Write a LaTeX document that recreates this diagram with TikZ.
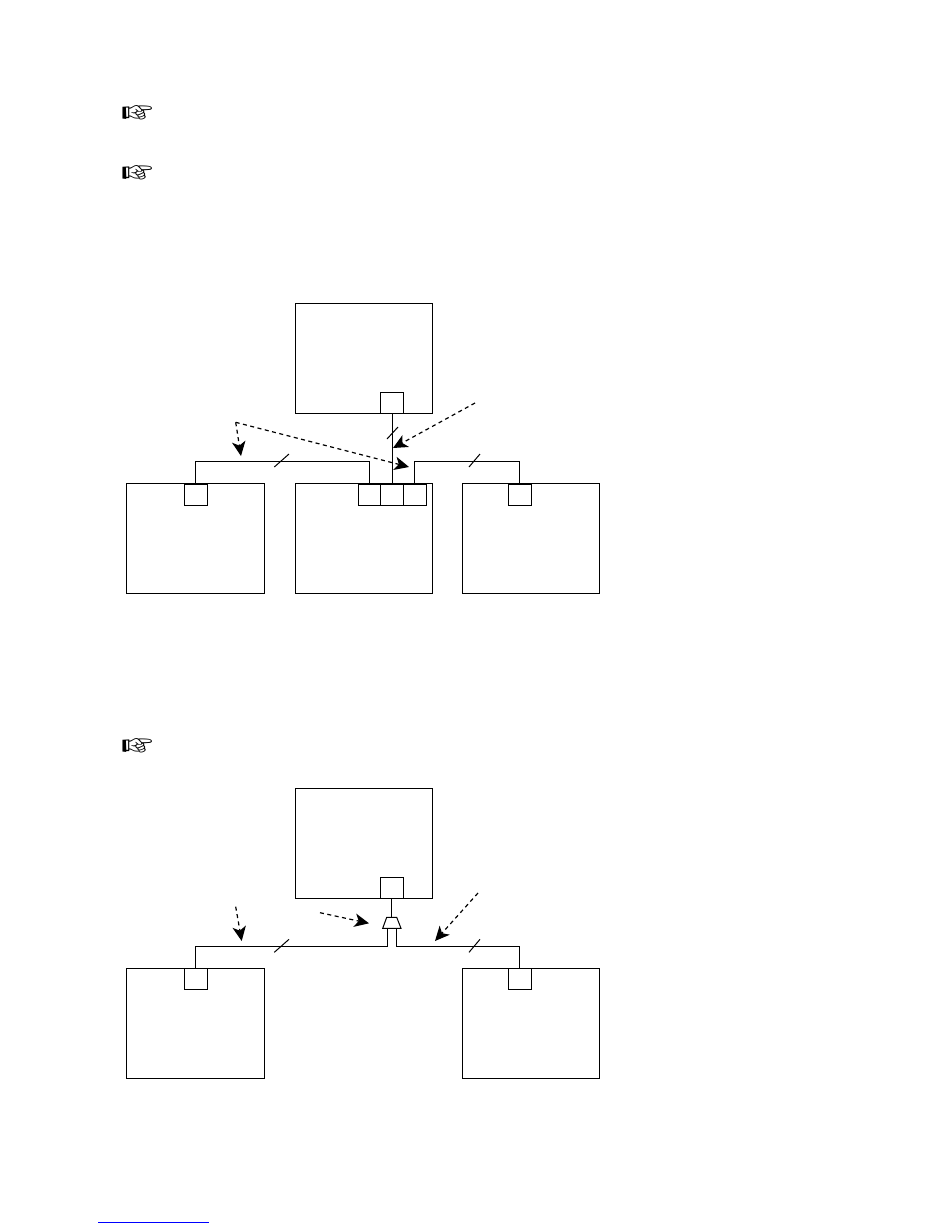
\documentclass[tikz,border=0pt]{standalone}
\usepackage{fontspec}
\usepackage{pifont}
\usetikzlibrary{arrows.meta}
\tikzset{
  blk/.style={draw=black,line width=1pt,fill=white,inner sep=0pt,outer sep=0pt,minimum width=137pt,minimum height=110pt},
  prt/.style={draw=black,line width=1pt,fill=white,inner sep=0pt,outer sep=0pt,minimum width=22.8pt,minimum height=21pt},
  wire/.style={draw=black,line width=1pt},
  tick/.style={draw=black,line width=1pt},
  dashar/.style={draw=black,line width=1.2pt,dash pattern=on 4pt off 3.5pt,-{Stealth[length=14.5pt,width=13.5pt,inset=4pt,sep=0pt]}},
  hand/.style={inner sep=0pt,font=\fontsize{34}{34}\selectfont},
  mux/.style={draw=black,line width=1pt,fill=white}
}
\begin{document}
\begin{tikzpicture}[x=1pt,y=-1pt]
\useasboundingbox (0,0) rectangle (950,1229);
% pointers
\node[hand] (h1) at (137.3,114.5) {\ding{43}};
\node[hand] (h2) at (137.3,174.5) {\ding{43}};
\node[hand] (h3) at (137.3,747.5) {\ding{43}};
% upper figure
\node[blk] (T) at (364.25,358) {};
\node[prt] (Tp) at (392.2,402.5) {};
\node[blk,minimum width=137.7pt] (L) at (195.35,538.5) {};
\node[prt] (Lp) at (195.6,494.5) {};
\node[blk] (M) at (364.25,538.5) {};
\node[prt] (M1) at (369.7,494.5) {};
\node[prt] (M2) at (392.2,494.5) {};
\node[prt] (M3) at (414.7,494.5) {};
\node[blk] (R) at (531,538.5) {};
\node[prt] (Rp) at (519.6,494.5) {};
\draw[wire] (Tp.south) -- (M2.north);
\draw[wire] (Lp.north) |- (195.6,461.5) -| (M1.north);
\draw[wire] (M3.north) |- (414.7,461.5) -| (Rp.north);
\draw[tick] (274.3,467) -- (289,454);
\draw[tick] (469,467) -- (480,454);
\draw[tick] (387,439) -- (398,427);
\coordinate (a0) at (235.7,422.3);
\coordinate (a1) at (241,456);
\coordinate (a2) at (409,467);
\coordinate (a3) at (475,403);
\coordinate (a4) at (393,448);
\draw[dashar] (a0) -- (a1);
\draw[dashar] (a0) -- (a2);
\draw[dashar] (a3) -- (a4);
% lower figure
\node[blk] (T2) at (364.25,843) {};
\node[prt] (Tp2) at (392.2,887.5) {};
\node[blk,minimum width=137.7pt] (L2) at (195.35,1023) {};
\node[prt] (Lp2) at (195.6,979) {};
\node[blk] (R2) at (531,1023) {};
\node[prt] (Rp2) at (519.6,979) {};
\coordinate (mt) at (391.7,917.3);
\draw[wire] (Tp2.south -| mt) -- (mt);
\draw[mux] (386.7,917.3) -- (396.7,917.3) -- (401,928.3) -- (382.7,928.3) -- cycle;
\coordinate (ml) at (387.7,928.3);
\coordinate (mr) at (396.3,928.3);
\draw[wire] (Lp2.north) |- (195.6,946) -| (ml);
\draw[wire] (Rp2.north) |- (519.6,946) -| (mr);
\draw[tick] (274.3,952.3) -- (289,939.3);
\draw[tick] (469,952.3) -- (480,939.3);
\coordinate (b0) at (235.7,906.7);
\coordinate (b1) at (241.7,941);
\coordinate (b2) at (320,912.7);
\coordinate (b3) at (369,923.3);
\coordinate (b4) at (478,893);
\coordinate (b5) at (435,941);
\draw[dashar] (b0) -- (b1);
\draw[dashar] (b2) -- (b3);
\draw[dashar] (b4) -- (b5);
% link underline
\coordinate (u0) at (98,1222.3);
\coordinate (u1) at (208.7,1222.3);
\draw[draw=blue,line width=1.3pt] (u0) -- (u1);
\end{tikzpicture}
\end{document}
